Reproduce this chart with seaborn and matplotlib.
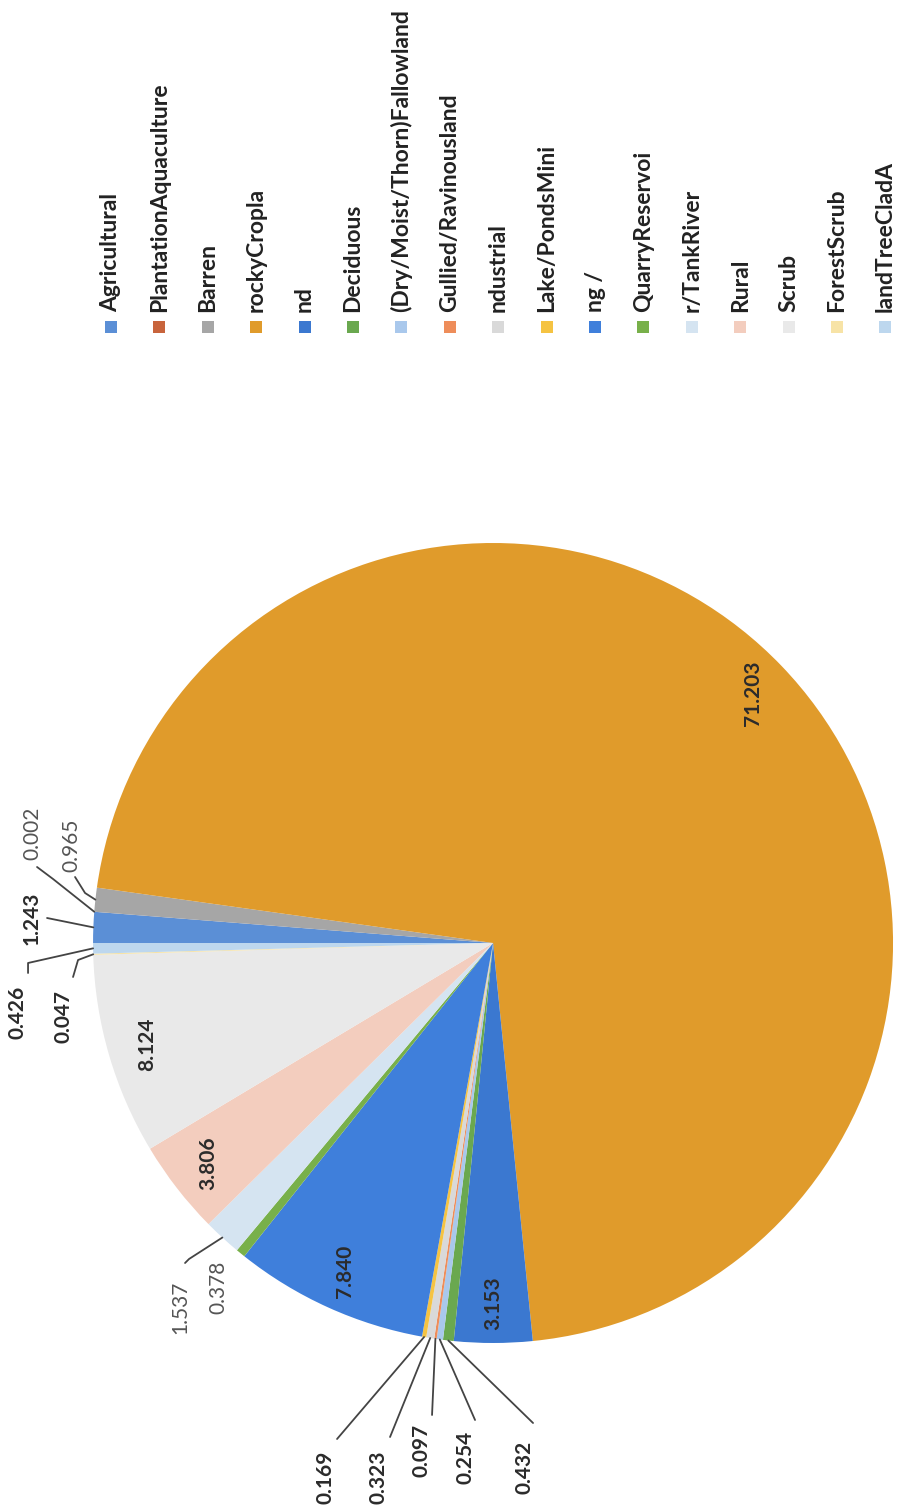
import numpy as np
import pandas as pd
import seaborn as sns
import matplotlib.pyplot as plt
from matplotlib.patches import Rectangle

# pie data, in the order Excel drew it (clockwise from the 9 o'clock position)
legend_labels = ["Agricultural", "PlantationAquaculture", "Barren", "rockyCropla", "nd",
                 "Deciduous", "(Dry/Moist/Thorn)Fallowland", "Gullied/Ravinousland",
                 "ndustrial", "Lake/PondsMini", "ng /", "QuarryReservoi", "r/TankRiver",
                 "Rural", "Scrub", "ForestScrub", "landTreeCladA"]
values = [1.243, 0.002, 0.965, 71.203, 3.153, 0.432, 0.254, 0.097, 0.323, 0.169,
          7.840, 0.378, 1.537, 3.806, 8.124, 0.047, 0.426]
value_text = ["1.243", "0.002", "0.965", "71.203", "3.153", "0.432", "0.254", "0.097",
              "0.323", "0.169", "7.840", "0.378", "1.537", "3.806", "8.124", "0.047", "0.426"]
colors = ["#5b8fd6", "#c8643c", "#a6a6a6", "#e09b2b", "#3b78d0", "#6aa84f", "#a9c8ec",
          "#ee8d5a", "#d9d9d9", "#f5c342", "#3f7fdb", "#78b04a", "#d5e4f1", "#f3cdbe",
          "#e9e9e9", "#f7e3a6", "#bdd7ee"]

df = pd.DataFrame({"label": legend_labels, "value": values, "text": value_text, "color": colors})

sns.set_theme(style="white")
plt.rcParams["font.family"] = ["Lato", "DejaVu Sans"]

fig = plt.figure(figsize=(9.05, 15.1), dpi=100)
ax = fig.add_axes([0.1028, 0.1106, 0.8840, 0.5298])
wedges, _ = ax.pie(df["value"], colors=df["color"], startangle=180, counterclock=False,
                   radius=1, wedgeprops=dict(linewidth=0))
ax.set_xlim(-1, 1)
ax.set_ylim(-1, 1)
ax.set_aspect("equal")
ax.axis("off")

mids = [np.deg2rad((w.theta1 + w.theta2) / 2) for w in wedges]

# labels sitting inside the big slices
inside = [3, 4, 10, 13, 14]
for i in inside:
    ax.text(0.9 * np.cos(mids[i]), 0.9 * np.sin(mids[i]), df["text"][i], rotation=90,
            ha="center", va="center", fontsize=15, fontweight="bold", color="#2b2b2b")

# outside labels: text position, leader points (axes data units)
outside = {
    0: ((-1.1525, 0.0625), [(-1.115, 0.0625)]),
    1: ((-1.1525, 0.275), [(-1.14, 0.19), (-1.10, 0.16)]),
    2: ((-1.055, 0.245), [(-1.045, 0.165), (-1.02, 0.125)]),
    15: ((-1.075, -0.185), [(-1.05, -0.085), (-1.0375, -0.0425)]),
    16: ((-1.19, -0.1725), [(-1.1625, -0.075), (-1.1625, -0.05)]),
    12: ((-0.7825, -0.91), [(-0.77, -0.80), (-0.76, -0.79)]),
    11: ((-0.6875, -0.86), None),
    9: ((-0.42, -1.335), [(-0.39, -1.24)]),
    8: ((-0.2875, -1.335), [(-0.2575, -1.235)]),
    7: ((-0.18, -1.2675), [(-0.1525, -1.18)]),
    6: ((-0.07, -1.285), [(-0.045, -1.1925)]),
    5: ((0.0775, -1.31), [(0.10, -1.20)]),
}
light = [1, 2, 11, 12]
for i, (pos, leader) in outside.items():
    ax.text(pos[0], pos[1], df["text"][i], rotation=90, ha="center", va="center",
            fontsize=15, fontweight="normal" if i in light else "bold",
            color="#555555" if i in light else "#2b2b2b", clip_on=False)
    if leader:
        pts = leader + [(np.cos(mids[i]), np.sin(mids[i]))]
        xs, ys = zip(*pts)
        ax.plot(xs, ys, color="#444444", lw=1.3, clip_on=False)

# legend, drawn as a rotated row along the top
W, H = 905, 1510
for i, row in df.iterrows():
    cx = 111 + 48.4 * i
    fig.add_artist(Rectangle(((cx - 6) / W, (H - 333) / H), 12 / W, 12 / H,
                             transform=fig.transFigure, color=row["color"], lw=0))
    fig.text(cx / W, (H - 312) / H, row["label"], rotation=90, ha="center", va="bottom",
             fontsize=16.5, fontweight="bold", color="#222222")

fig.savefig("out.png", dpi=100)
